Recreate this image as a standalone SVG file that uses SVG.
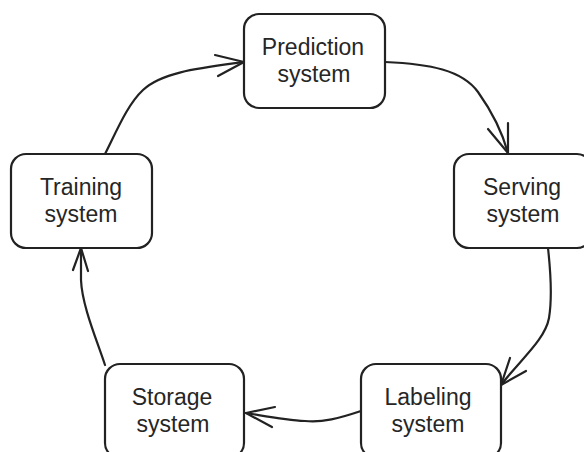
<svg xmlns="http://www.w3.org/2000/svg" width="584" height="452" viewBox="0 0 584 452">
<style>
.box{fill:#fff;stroke:#222;stroke-width:2.2}
.lbl{font-family:"Liberation Sans",Arial,sans-serif;font-size:23px;fill:#262626;text-anchor:middle}
.edge{fill:none;stroke:#222;stroke-width:2.2;stroke-linecap:round;stroke-linejoin:round}
</style>
<rect width="584" height="452" fill="#fff"/>
<g id="connectors">
<path class="edge" d="M105,154 C118,128 128,104 143,90 C162,72 200,68 244,62"/>
<polyline class="edge" points="215,55 244,62 218,76"/>
<path class="edge" d="M385,62 C430,64 462,70 478,92 C493,113 503,135 508,153"/>
<polyline class="edge" points="508,123 508,153 488,129"/>
<path class="edge" d="M548,248 C551,275 552,300 549,318 C545,340 520,360 501,385"/>
<polyline class="edge" points="510,358 501,385 526,371"/>
<path class="edge" d="M361,411 C340,418 322,423 305,421 C285,420 265,416 246,413"/>
<polyline class="edge" points="275,407 246,413 272,427"/>
<path class="edge" d="M105,365 C96,338 82,305 81,280 L81,248"/>
<polyline class="edge" points="73,270 81,248 88,271"/>
</g>
<g id="prediction">
<rect class="box" x="244" y="14" width="141" height="94" rx="15"/>
<text class="lbl" x="313" y="55">Prediction</text>
<text class="lbl" x="314" y="82">system</text>
</g>
<g id="serving">
<rect class="box" x="454" y="154" width="138" height="94" rx="15"/>
<text class="lbl" x="522" y="195">Serving</text>
<text class="lbl" x="523" y="222">system</text>
</g>
<g id="labeling">
<rect class="box" x="361" y="364" width="140" height="94" rx="15"/>
<text class="lbl" x="428" y="405">Labeling</text>
<text class="lbl" x="428" y="432">system</text>
</g>
<g id="storage">
<rect class="box" x="105" y="364" width="139" height="94" rx="15"/>
<text class="lbl" x="172" y="405">Storage</text>
<text class="lbl" x="173" y="432">system</text>
</g>
<g id="training">
<rect class="box" x="11" y="154" width="141" height="94" rx="15"/>
<text class="lbl" x="81" y="195">Training</text>
<text class="lbl" x="81" y="222">system</text>
</g>
</svg>
